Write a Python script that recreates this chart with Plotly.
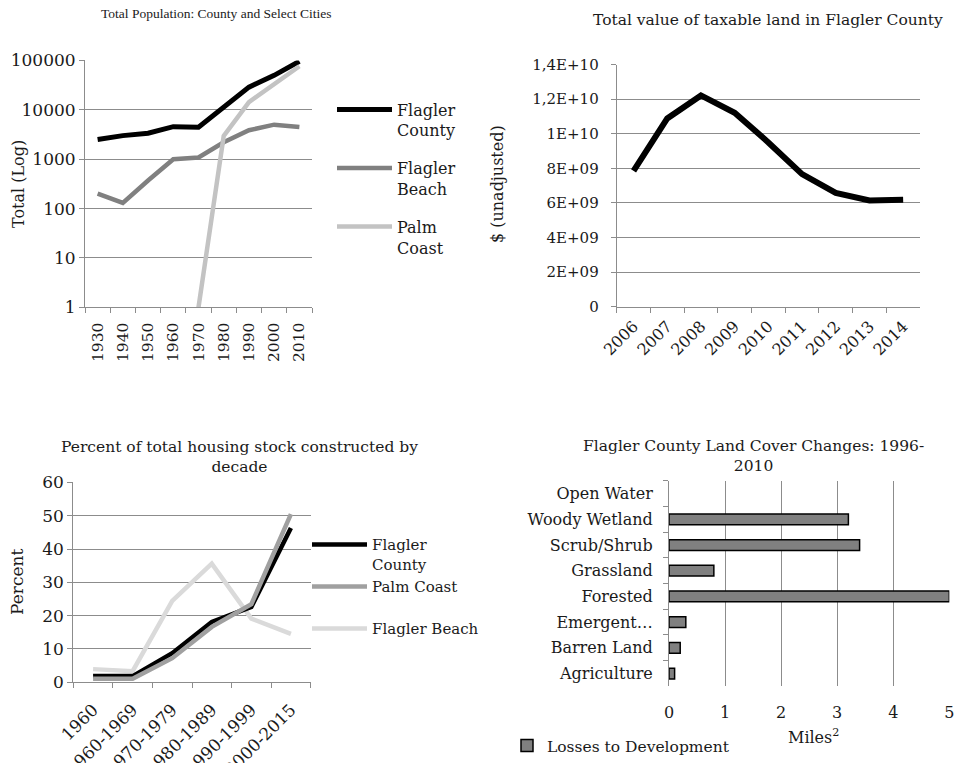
import plotly.graph_objects as go

W, H = 959, 763

# ---------------- data ----------------
pop_years = ["1930", "1940", "1950", "1960", "1970", "1980", "1990", "2000", "2010"]
pop_flagler_county = [2500, 3000, 3350, 4550, 4450, 10900, 28700, 49800, 95700]
pop_flagler_beach = [200, 130, 370, 1000, 1080, 2200, 3850, 5000, 4480]
pop_palm_coast = [None, None, None, None, 1, 2950, 14300, 34000, 76000]

land_years = ["2006", "2007", "2008", "2009", "2010", "2011", "2012", "2013", "2014"]
land_value = [7.86e9, 1.089e10, 1.222e10, 1.122e10, 9.5e9, 7.67e9, 6.58e9, 6.14e9, 6.19e9]
land_tickvals = [0, 2e9, 4e9, 6e9, 8e9, 1e10, 1.2e10, 1.4e10]
land_ticktext = ["0", "2E+09", "4E+09", "6E+09", "8E+09", "1E+10", "1,2E+10", "1,4E+10"]

house_decades = ["1960", "1960-1969", "1970-1979", "1980-1989", "1990-1999", "2000-2015"]
house_flagler_county = [1.8, 1.8, 8.7, 18.1, 22.6, 46.3]
house_palm_coast = [1.0, 1.0, 7.2, 16.6, 23.4, 50.5]
house_flagler_beach = [3.9, 3.3, 24.4, 35.6, 19.1, 14.5]

cover_types = ["Agriculture", "Barren Land", "Emergent…", "Forested", "Grassland",
               "Scrub/Shrub", "Woody Wetland", "Open Water"]
cover_losses = [0.1, 0.2, 0.3, 5.0, 0.8, 3.4, 3.2, None]

# ---------------- helpers ----------------
def px(x):
    return x / W

def py(y):
    return 1 - y / H

FONT = "DejaVu Serif"
GRID = "#8c8c8c"
TXT = "#1a1a1a"

fig = go.Figure()

# Chart 1
fig.add_trace(go.Scatter(x=pop_years, y=pop_flagler_county, name="Flagler<br>County",
                         mode="lines", line=dict(color="black", width=5),
                         xaxis="x", yaxis="y", legend="legend", legendgroup="a"))
fig.add_trace(go.Scatter(x=pop_years, y=pop_flagler_beach, name="Flagler<br>Beach",
                         mode="lines", line=dict(color="#808080", width=4.5),
                         xaxis="x", yaxis="y", legend="legend", legendgroup="b"))
fig.add_trace(go.Scatter(x=pop_years, y=pop_palm_coast, name="Palm<br>Coast",
                         mode="lines", line=dict(color="#c3c3c3", width=4.5),
                         xaxis="x", yaxis="y", legend="legend", legendgroup="c"))

# Chart 2
fig.add_trace(go.Scatter(x=land_years, y=land_value, mode="lines", showlegend=False,
                         line=dict(color="black", width=6), xaxis="x2", yaxis="y2"))

# Chart 3
fig.add_trace(go.Scatter(x=house_decades, y=house_flagler_beach, name="Flagler Beach",
                         mode="lines", line=dict(color="#dadada", width=4.5),
                         xaxis="x3", yaxis="y3", legend="legend2", legendrank=3))
fig.add_trace(go.Scatter(x=house_decades, y=house_flagler_county, name="Flagler<br>County",
                         mode="lines", line=dict(color="black", width=4.5),
                         xaxis="x3", yaxis="y3", legend="legend2", legendrank=1))
fig.add_trace(go.Scatter(x=house_decades, y=house_palm_coast, name="Palm Coast<br> ",
                         mode="lines", line=dict(color="#a0a0a0", width=4.5),
                         xaxis="x3", yaxis="y3", legend="legend2", legendrank=2))

# Chart 4
fig.add_trace(go.Bar(x=cover_losses, y=cover_types, orientation="h", name="Losses to Development",
                     marker=dict(color="#808080", line=dict(color="black", width=1.5)),
                     width=0.42, xaxis="x4", yaxis="y4", legend="legend3"))

axis_common = dict(showline=True, linecolor=GRID, linewidth=1, ticks="outside",
                   tickcolor=GRID, ticklen=5, automargin=False, zeroline=False,
                   tickfont=dict(family=FONT, size=16, color=TXT))

fig.update_layout(
    width=W, height=H, template="none",
    margin=dict(l=0, r=0, t=0, b=0),
    paper_bgcolor="white", plot_bgcolor="white",
    font=dict(family=FONT, color=TXT),
    # chart 1
    xaxis=dict(axis_common, domain=[px(85), px(312)], anchor="y", type="category",
               range=[-0.5, 8.5], tickson="boundaries", showgrid=False, tickangle=-90,
               ticklabelstandoff=8,
               tickfont=dict(family=FONT, size=15.5, color=TXT)),
    yaxis=dict(axis_common, domain=[py(309), py(60.7)], anchor="x", type="log",
               range=[0, 5], tickvals=[1, 10, 100, 1000, 10000, 100000],
               ticktext=["1", "10", "100", "1000", "10000", "100000"],
               showgrid=True, gridcolor=GRID, gridwidth=1,
               tickfont=dict(family=FONT, size=17, color=TXT)),
    # chart 2
    xaxis2=dict(axis_common, domain=[px(616.7), px(920)], anchor="y2", type="category",
                range=[-0.5, 8.5], tickson="boundaries", showgrid=False, tickangle=-45,
                ticklabelstandoff=3,
                tickfont=dict(family=FONT, size=16, color=TXT)),
    yaxis2=dict(axis_common, domain=[py(308.3), py(65)], anchor="x2",
                range=[0, 1.4e10], tickvals=land_tickvals, ticktext=land_ticktext,
                showgrid=True, gridcolor=GRID, gridwidth=1, ticklabelstandoff=9,
                tickfont=dict(family=FONT, size=15, color=TXT)),
    # chart 3
    xaxis3=dict(axis_common, domain=[px(73.3), px(310.7)], anchor="y3", type="category",
                range=[-0.5, 5.5], tickson="boundaries", showgrid=False, tickangle=-45,
                ticklabelstandoff=10,
                tickfont=dict(family=FONT, size=17, color=TXT)),
    yaxis3=dict(axis_common, domain=[py(685.7), py(485)], anchor="x3",
                range=[0, 60], dtick=10, showgrid=True, gridcolor=GRID, gridwidth=1,
                tickfont=dict(family=FONT, size=17, color=TXT)),
    # chart 4
    xaxis4=dict(axis_common, domain=[px(669), px(949.3)], anchor="y4", range=[0, 5],
                dtick=1, showline=False, ticks="", showgrid=True, gridcolor=GRID,
                gridwidth=1, ticklabelstandoff=15,
                tickfont=dict(family=FONT, size=16, color=TXT)),
    yaxis4=dict(axis_common, domain=[py(690), py(483.3)], anchor="x4", type="category",
                categoryorder="array", categoryarray=cover_types,
                range=[-0.5, 7.5], tickson="boundaries", showgrid=False,
                ticklabelstandoff=12,
                tickfont=dict(family=FONT, size=16, color=TXT)),
    legend=dict(x=px(332), y=py(93), xanchor="left", yanchor="top",
                bgcolor="rgba(0,0,0,0)", font=dict(family=FONT, size=16, color=TXT),
                itemwidth=55, valign="top", traceorder="grouped", tracegroupgap=14),
    legend2=dict(x=px(307), y=py(531), xanchor="left", yanchor="top",
                 bgcolor="rgba(0,0,0,0)", font=dict(family=FONT, size=15, color=TXT),
                 itemwidth=55, valign="top", traceorder="normal"),
    legend3=dict(x=px(507), y=py(750), xanchor="left", yanchor="middle",
                 bgcolor="rgba(0,0,0,0)", font=dict(family=FONT, size=15.5, color=TXT),
                 itemwidth=30, orientation="h"),
)

ann = []
def note(text, x, y, size, angle=0, family=FONT):
    ann.append(dict(text=text, x=px(x), y=py(y), xref="paper", yref="paper",
                    showarrow=False, textangle=angle, xanchor="center", yanchor="middle",
                    font=dict(family=family, size=size, color=TXT)))

note("Total Population: County and Select Cities", 216, 14, 13.5, family="Liberation Serif")
note("Total (Log)", 18, 185, 16, angle=-90)
note("Total value of taxable land in Flagler County", 768, 20, 15.5)
note("$ (unadjusted)", 497, 185, 16, angle=-90)
note("Percent of total housing stock constructed by<br>decade", 239, 459, 15.5)
note("Percent", 17, 585, 17, angle=-90)
note("Flagler County Land Cover Changes: 1996-<br>2010", 753, 458, 15.5)
note("Miles<sup>2</sup>", 813, 740, 16)
fig.update_layout(annotations=ann)

fig.write_html("out.html", config={"displayModeBar": False},
               post_script="document.body.style.margin='0';document.body.style.overflow='hidden';")
